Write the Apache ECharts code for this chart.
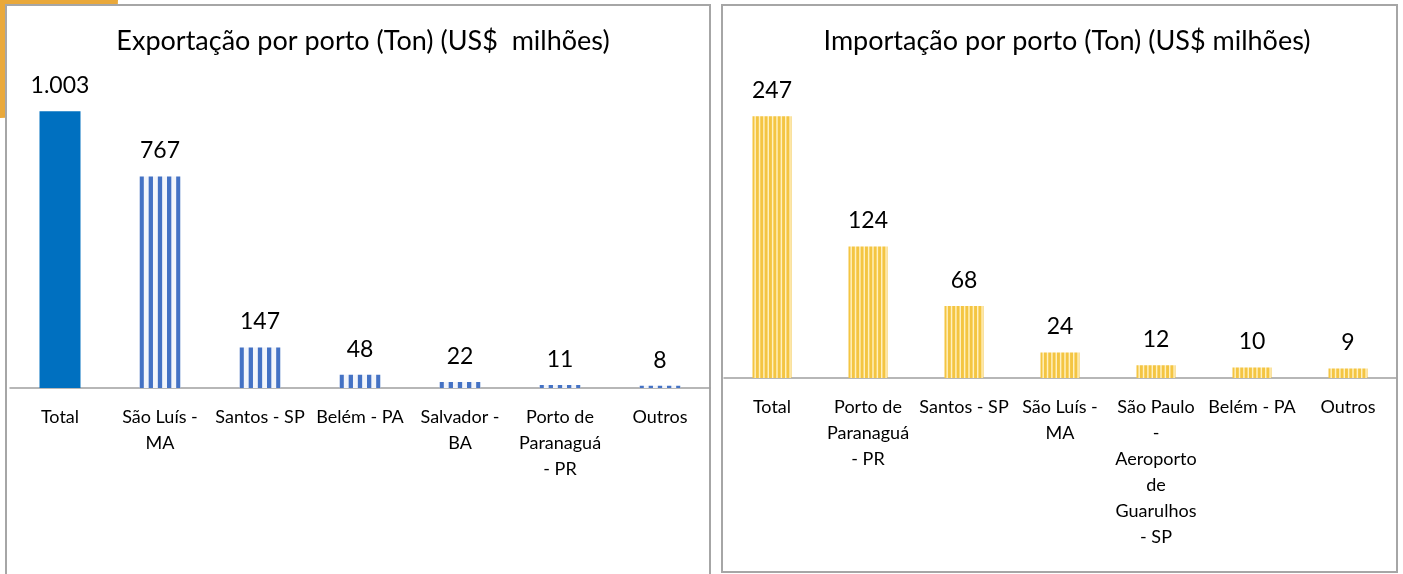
<!doctype html>
<html>
	<head>
		<meta charset="UTF-8">
		<title></title>
		<script src="https://cdn.jsdelivr.net/npm/echarts/dist/echarts.min.js"></script>
		<style>
			html,body{margin:0;padding:0;background:#ffffff;}
			#chart{width:1403px;height:574px;}
		</style>
	</head>
	<body>
		<div id="chart"></div>
		<script type="text/javascript">
			// dados
			var expCategorias = ['Total', 'São Luís -\nMA', 'Santos - SP', 'Belém - PA', 'Salvador -\nBA', 'Porto de\nParanaguá\n- PR', 'Outros'];
			var expValores = [1003, 767, 147, 48, 22, 11, 8];
			var impCategorias = ['Total', 'Porto de\nParanaguá\n- PR', 'Santos - SP', 'São Luís -\nMA', 'São Paulo\n-\nAeroporto\nde\nGuarulhos\n- SP', 'Belém - PA', 'Outros'];
			var impValores = [247, 124, 68, 24, 12, 10, 9];
			var expTitulo = 'Exportação por porto (Ton) (US$  milhões)';
			var impTitulo = 'Importação por porto (Ton) (US$ milhões)';

			var fonte = 'Lato, "Open Sans", sans-serif';

			// listras verticais: tile largura w, n listras a partir de x0
			function listras(w, x0, passo, faixa, n, cor, fundo) {
				var c = document.createElement('canvas');
				c.width = w;
				c.height = 4;
				var ctx = c.getContext('2d');
				ctx.fillStyle = fundo;
				ctx.fillRect(0, 0, w, 4);
				ctx.fillStyle = cor;
				for (var k = 0; k < n; k++) {
					var x = (x0 + k * passo) % w;
					ctx.fillRect(x, 0, faixa, 4);
					if (x + faixa > w) ctx.fillRect(x - w, 0, faixa, 4);
				}
				return {image: c, repeat: 'repeat'};
			}
			// barras azuis comecam em 39.5 + 100k
			var azulListra = listras(50, 39.5, 9.17, 4.3, 5, '#4472C4', '#F2F5FB');
			// barras amarelas: passo 48/11
			var amareloListra = listras(48, 1, 48 / 11, 2.9, 11, '#F4C542', '#FFF0BF');

			function milhar(p) {
				return String(p.value).replace(/\B(?=(\d{3})+(?!\d))/g, '.');
			}

			var expDados = [];
			for (var i = 0; i < expValores.length; i++) {
				expDados.push({
					value: expValores[i],
					itemStyle: {color: i == 0 ? '#0070C0' : azulListra}
				});
			}

			var myChart = echarts.init(document.getElementById('chart'));
			var option = {
				backgroundColor: '#ffffff',
				animation: false,
				graphic: [
					{type: 'circle', shape: {cx: 0, cy: 0, r: 118}, style: {fill: '#E9A83A'}, z: -10},
					{type: 'rect', shape: {x: 6, y: 5, width: 704, height: 580}, style: {fill: '#ffffff', stroke: '#A6A6A6', lineWidth: 2}, z: -5},
					{type: 'rect', shape: {x: 722, y: 5, width: 675, height: 567}, style: {fill: '#ffffff', stroke: '#A6A6A6', lineWidth: 2}, z: -5}
				],
				title: [
					{text: expTitulo, left: 358, top: 23, textAlign: 'center',
						textStyle: {fontFamily: fonte, fontSize: 27, fontWeight: 'normal', color: '#000000'}},
					{text: impTitulo, left: 1062, top: 23, textAlign: 'center',
						textStyle: {fontFamily: fonte, fontSize: 27, fontWeight: 'normal', color: '#000000'}}
				],
				grid: [
					{left: 10, width: 700, top: 57, bottom: 186},
					{left: 724, width: 672, top: 60, bottom: 196}
				],
				xAxis: [
					{
						type: 'category', gridIndex: 0, data: expCategorias,
						axisLine: {lineStyle: {color: '#A0A0A0', width: 1.5}},
						axisTick: {show: false},
						axisLabel: {interval: 0, margin: 16, fontFamily: fonte, fontSize: 18, lineHeight: 26, color: '#000000'}
					},
					{
						type: 'category', gridIndex: 1, data: impCategorias,
						axisLine: {lineStyle: {color: '#A0A0A0', width: 1.5}},
						axisTick: {show: false},
						axisLabel: {interval: 0, margin: 16, fontFamily: fonte, fontSize: 18, lineHeight: 26, color: '#000000'}
					}
				],
				yAxis: [
					{type: 'value', gridIndex: 0, min: 0, max: 1200, show: false, splitLine: {show: false}},
					{type: 'value', gridIndex: 1, min: 0, max: 300, show: false, splitLine: {show: false}}
				],
				series: [
					{
						name: 'Exportação',
						type: 'bar',
						xAxisIndex: 0,
						yAxisIndex: 0,
						barWidth: 41,
						data: expDados,
						label: {
							show: true, position: 'top', distance: 14,
							fontFamily: fonte, fontSize: 23, color: '#000000',
							formatter: milhar
						}
					},
					{
						name: 'Importação',
						type: 'bar',
						xAxisIndex: 1,
						yAxisIndex: 1,
						barWidth: 39,
						data: impValores,
						itemStyle: {color: amareloListra},
						label: {
							show: true, position: 'top', distance: 14,
							fontFamily: fonte, fontSize: 23, color: '#000000',
							formatter: milhar
						}
					}
				]
			};
			myChart.setOption(option);
		</script>
	</body>
</html>
